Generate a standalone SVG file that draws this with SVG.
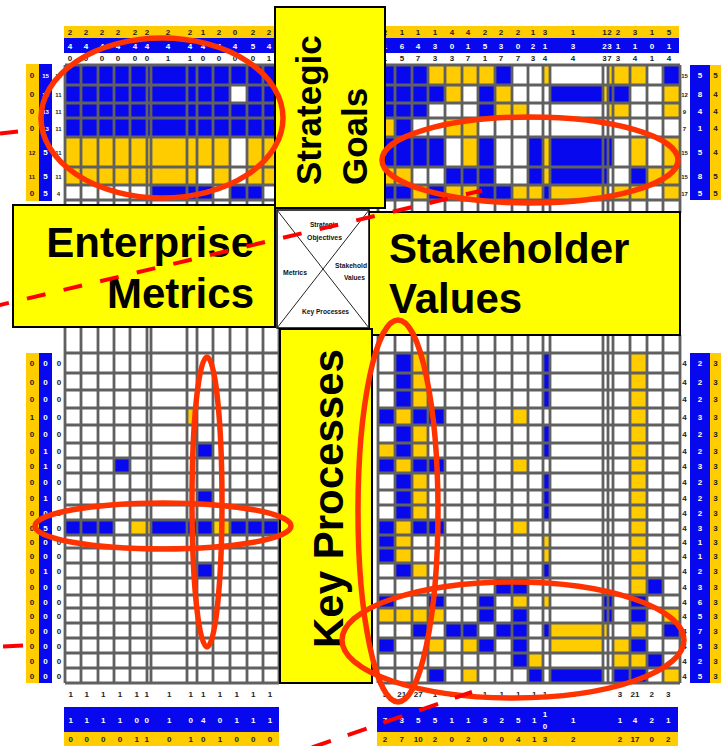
<svg xmlns="http://www.w3.org/2000/svg" width="721" height="746" viewBox="0 0 721 746">
<style>
.bg{fill:#fff}
.b{fill:#0808ee}
.y{fill:#ffcc00}
.grid{fill:none;stroke:#606060;stroke-width:2.8}
.t{font-family:"Liberation Sans",Arial,sans-serif;font-weight:bold;font-size:8px;text-anchor:middle}
.tw{fill:#fff}
.tk{fill:#222}
.ts{font-size:6px}
.box{fill:#ffff00;stroke:#000;stroke-width:2}
.title{font-family:"Liberation Sans",Arial,sans-serif;font-weight:bold;fill:#000}
.leg{font-family:"Liberation Sans Narrow","Liberation Sans",Arial,sans-serif;font-weight:bold;font-size:8px;fill:#111}
.ell{fill:none;stroke:#ff3300;stroke-width:5.5}
.dash{fill:none;stroke:#ff0000;stroke-width:4;stroke-linecap:butt}
</style>
<rect class="bg" x="0" y="0" width="721" height="746"/>

<!-- Top-left matrix: Strategic Goals x Enterprise Metrics -->
<g id="matrix-goals-metrics">
<rect class="b" x="65" y="65" width="214" height="20"/>
<rect class="b" x="65" y="85" width="165" height="18"/>
<rect class="b" x="247" y="85" width="32" height="18"/>
<rect class="b" x="65" y="103" width="214" height="34"/>
<rect class="y" x="65" y="137" width="165" height="30"/>
<rect class="y" x="247" y="137" width="32" height="30"/>
<rect class="y" x="65" y="167" width="132" height="18"/>
<rect class="y" x="213" y="167" width="17" height="18"/>
<rect class="y" x="247" y="167" width="32" height="18"/>
<rect class="b" x="151" y="185" width="62" height="15"/>
<rect class="b" x="230" y="185" width="33" height="15"/>
<path class="grid" d="M65 65V206M81 65V206M98 65V206M114 65V206M130 65V206M147 65V206M151 65V206M187 65V206M197 65V206M213 65V206M230 65V206M247 65V206M263 65V206M279 65V206M65 65H279M65 85H279M65 103H279M65 118H279M65 137H279M65 167H279M65 185H279M65 200H279"/>
<rect class="y" x="64" y="26" width="215" height="12"/>
<rect class="b" x="64" y="38" width="215" height="15"/>
<text class="t tk" y="35" x="70 86 102 118 135 147 168 190 203 219 235 253 269">2222222212022</text>
<text class="t tw" y="49" x="70 86 102 118 135 147 168 190 203 219 235 253 269">4444444444454</text>
<text class="t tk" y="61" x="70 86 102 118 135 147 168 190 203 219 235 253 269">0000001100001</text>
<rect class="y" x="26" y="64" width="13" height="137"/>
<rect class="b" x="39" y="64" width="13" height="137"/>
<text class="t tk" x="32 32 32 32" y="78 97 113.5 130.5">0000</text>
<text class="t tk ts" x="32" y="155">12</text>
<text class="t tk ts" x="32" y="179">11</text>
<text class="t tk" x="32" y="195.5">0</text>
<text class="t tw ts" x="45.5" y="78">15</text>
<text class="t tw ts" x="45.5" y="97">15</text>
<text class="t tw ts" x="45.5" y="113.5">13</text>
<text class="t tw ts" x="45.5" y="130.5">13</text>
<text class="t tw" x="45.5 45.5 45.5" y="155 179 195.5">555</text>
<text class="t tk ts" x="58.5" y="78">11</text>
<text class="t tk ts" x="58.5" y="97">11</text>
<text class="t tk ts" x="58.5" y="113.5">11</text>
<text class="t tk ts" x="58.5" y="130.5">11</text>
<text class="t tk ts" x="58.5" y="155">11</text>
<text class="t tk ts" x="58.5" y="179">11</text>
<text class="t tk ts" x="58.5" y="195.5">4</text>
</g>

<!-- Top-right matrix: Strategic Goals x Stakeholder Values -->
<g id="matrix-goals-values">
<rect class="b" x="378" y="65" width="50" height="20"/>
<rect class="y" x="428" y="65" width="67" height="20"/>
<rect class="b" x="495" y="65" width="17" height="20"/>
<rect class="y" x="543" y="65" width="7" height="20"/>
<rect class="y" x="608" y="65" width="39" height="20"/>
<rect class="b" x="663" y="65" width="17" height="20"/>
<rect class="b" x="378" y="85" width="67" height="18"/>
<rect class="y" x="445" y="85" width="17" height="18"/>
<rect class="b" x="478" y="85" width="17" height="18"/>
<rect class="y" x="495" y="85" width="17" height="18"/>
<rect class="b" x="550" y="85" width="53" height="18"/>
<rect class="y" x="603" y="85" width="5" height="18"/>
<rect class="b" x="608" y="85" width="22" height="18"/>
<rect class="y" x="663" y="85" width="17" height="18"/>
<rect class="b" x="378" y="103" width="50" height="15"/>
<rect class="b" x="478" y="103" width="17" height="15"/>
<rect class="y" x="495" y="103" width="33" height="15"/>
<rect class="y" x="608" y="103" width="22" height="15"/>
<rect class="y" x="663" y="103" width="17" height="15"/>
<rect class="y" x="378" y="118" width="17" height="19"/>
<rect class="b" x="395" y="118" width="17" height="19"/>
<rect class="y" x="445" y="118" width="33" height="19"/>
<rect class="b" x="378" y="137" width="67" height="30"/>
<rect class="y" x="462" y="137" width="16" height="30"/>
<rect class="b" x="478" y="137" width="17" height="30"/>
<rect class="b" x="528" y="137" width="15" height="30"/>
<rect class="y" x="543" y="137" width="7" height="30"/>
<rect class="b" x="550" y="137" width="63" height="30"/>
<rect class="y" x="630" y="137" width="17" height="30"/>
<rect class="y" x="663" y="137" width="17" height="30"/>
<rect class="y" x="378" y="167" width="34" height="18"/>
<rect class="b" x="445" y="167" width="50" height="18"/>
<rect class="b" x="528" y="167" width="15" height="18"/>
<rect class="y" x="543" y="167" width="7" height="18"/>
<rect class="b" x="550" y="167" width="58" height="18"/>
<rect class="b" x="630" y="167" width="17" height="18"/>
<rect class="y" x="647" y="167" width="33" height="18"/>
<rect class="b" x="378" y="185" width="34" height="15"/>
<rect class="y" x="412" y="185" width="16" height="15"/>
<rect class="b" x="428" y="185" width="17" height="15"/>
<rect class="y" x="445" y="185" width="33" height="15"/>
<rect class="b" x="478" y="185" width="34" height="15"/>
<rect class="y" x="512" y="185" width="31" height="15"/>
<rect class="b" x="543" y="185" width="7" height="15"/>
<rect class="y" x="550" y="185" width="58" height="15"/>
<rect class="y" x="613" y="185" width="34" height="15"/>
<rect class="y" x="663" y="185" width="17" height="15"/>
<path class="grid" d="M378 65V213M395 65V213M412 65V213M428 65V213M445 65V213M462 65V213M478 65V213M495 65V213M512 65V213M528 65V213M543 65V213M550 65V213M603 65V213M608 65V213M613 65V213M630 65V213M647 65V213M663 65V213M680 65V213M378 65H680M378 85H680M378 103H680M378 118H680M378 137H680M378 167H680M378 185H680M378 200H680"/>
<rect class="y" x="383" y="26" width="296" height="12"/>
<rect class="b" x="383" y="38" width="296" height="15"/>
<text class="t tk" y="35" x="385 402 418 435 452 468 485 501 518 533 545 573 604.5 609.5 618 635 652 669">211144222131122315</text>
<text class="t tw" y="49" x="385 402 418 435 452 468 485 501 518 533 545 573 604.5 609.5 618 635 652 669">164301530213231101</text>
<text class="t tk" y="61" x="385 402 418 435 452 468 485 501 518 533 545 573 604.5 609.5 618 635 652 669">157337177344373414</text>
<rect class="b" x="690" y="65" width="20" height="135"/>
<rect class="y" x="710" y="65" width="11" height="135"/>
<text class="t tw" x="700 700 700 700 700 700 700" y="78 97 113.5 130.5 155 179 195.5">5841585</text>
<text class="t tk" x="715.5 715.5 715.5 715.5 715.5 715.5 715.5" y="78 97 113.5 130.5 155 179 195.5">5444455</text>
<text class="t tk ts" x="684.5" y="78">15</text>
<text class="t tk ts" x="684.5" y="97">12</text>
<text class="t tk ts" x="684.5" y="113.5">9</text>
<text class="t tk ts" x="684.5" y="130.5">7</text>
<text class="t tk ts" x="684.5" y="155">15</text>
<text class="t tk ts" x="684.5" y="179">15</text>
<text class="t tk ts" x="684.5" y="195.5">17</text>
</g>

<!-- Lower-left matrix: Key Processes x Enterprise Metrics -->
<g id="matrix-processes-metrics">
<rect class="y" x="187" y="408" width="10" height="17"/>
<rect class="b" x="197" y="443" width="16" height="15"/>
<rect class="b" x="114" y="458" width="16" height="15"/>
<rect class="b" x="197" y="490" width="16" height="15"/>
<rect class="b" x="65" y="520" width="49" height="15"/>
<rect class="y" x="130" y="520" width="21" height="15"/>
<rect class="b" x="151" y="520" width="62" height="15"/>
<rect class="y" x="213" y="520" width="17" height="15"/>
<rect class="b" x="230" y="520" width="49" height="15"/>
<rect class="b" x="197" y="563" width="16" height="15"/>
<path class="grid" d="M65 327V683M81 327V683M98 327V683M114 327V683M130 327V683M147 327V683M151 327V683M187 327V683M197 327V683M213 327V683M230 327V683M247 327V683M263 327V683M279 327V683M65 353H279M65 373H279M65 390H279M65 408H279M65 425H279M65 443H279M65 458H279M65 473H279M65 490H279M65 505H279M65 520H279M65 535H279M65 548H279M65 563H279M65 578H279M65 595H279M65 608H279M65 623H279M65 638H279M65 653H279M65 668H279M65 683H279"/>
<rect class="y" x="26" y="353" width="13" height="330"/>
<rect class="b" x="39" y="353" width="13" height="330"/>
<text class="t tk" x="32 32 32 32 32 32 32 32 32 32 32 32 32 32 32 32 32 32 32 32 32" y="366 384.5 402 419.5 437 453.5 468.5 484.5 500.5 515.5 530.5 544.5 558.5 573.5 589.5 604.5 618.5 633.5 648.5 663.5 678.5">000100000000000000000</text>
<text class="t tw" x="45.5 45.5 45.5 45.5 45.5 45.5 45.5 45.5 45.5 45.5 45.5 45.5 45.5 45.5 45.5 45.5 45.5 45.5 45.5 45.5 45.5" y="366 384.5 402 419.5 437 453.5 468.5 484.5 500.5 515.5 530.5 544.5 558.5 573.5 589.5 604.5 618.5 633.5 648.5 663.5 678.5">000001101050010000000</text>
<text class="t tk" x="59 59 59 59 59 59 59 59 59 59 59 59 59 59 59 59 59 59 59 59 59" y="366 384.5 402 419.5 437 453.5 468.5 484.5 500.5 515.5 530.5 544.5 558.5 573.5 589.5 604.5 618.5 633.5 648.5 663.5 678.5">000000000000000000000</text>
<text class="t tk" y="697" x="70.7 86.7 103.3 120 136.7 146.7 169.3 190.7 203.3 220 236.7 253.3 270">1111111111111</text>
<rect class="b" x="64" y="707" width="215" height="25"/>
<rect class="y" x="64" y="732" width="215" height="14"/>
<text class="t tw" y="723" x="70.7 86.7 103.3 120 136.7 146.7 169.3 190.7 203.3 220 236.7 253.3 270">1111001040111</text>
<text class="t tk" y="742" x="70.7 86.7 103.3 120 136.7 146.7 169.3 190.7 203.3 220 236.7 253.3 270">0000110101000</text>
</g>

<!-- Lower-right matrix: Key Processes x Stakeholder Values -->
<g id="matrix-processes-values">
<rect class="b" x="395" y="353" width="17" height="55"/>
<rect class="b" x="395" y="425" width="17" height="33"/>
<rect class="b" x="395" y="473" width="17" height="47"/>
<rect class="b" x="395" y="563" width="17" height="15"/>
<rect class="y" x="412" y="353" width="16" height="55"/>
<rect class="y" x="412" y="425" width="16" height="33"/>
<rect class="y" x="412" y="473" width="16" height="47"/>
<rect class="y" x="412" y="563" width="16" height="15"/>
<rect class="b" x="543" y="353" width="7" height="55"/>
<rect class="b" x="543" y="425" width="7" height="33"/>
<rect class="b" x="543" y="473" width="7" height="47"/>
<rect class="b" x="543" y="563" width="7" height="15"/>
<rect class="y" x="378" y="443" width="17" height="15"/>
<rect class="b" x="378" y="408" width="17" height="17"/>
<rect class="y" x="395" y="408" width="17" height="17"/>
<rect class="b" x="412" y="408" width="33" height="17"/>
<rect class="y" x="512" y="408" width="16" height="17"/>
<rect class="b" x="378" y="458" width="17" height="15"/>
<rect class="y" x="395" y="458" width="17" height="15"/>
<rect class="b" x="412" y="458" width="33" height="15"/>
<rect class="y" x="512" y="458" width="16" height="15"/>
<rect class="b" x="378" y="520" width="17" height="15"/>
<rect class="y" x="395" y="520" width="17" height="15"/>
<rect class="b" x="412" y="520" width="33" height="15"/>
<rect class="y" x="512" y="520" width="16" height="15"/>
<rect class="b" x="378" y="535" width="17" height="28"/>
<rect class="y" x="395" y="535" width="17" height="28"/>
<rect class="y" x="543" y="535" width="7" height="28"/>
<rect class="y" x="630" y="353" width="17" height="242"/>
<rect class="b" x="495" y="578" width="33" height="17"/>
<rect class="b" x="647" y="578" width="16" height="17"/>
<rect class="b" x="378" y="595" width="17" height="13"/>
<rect class="b" x="428" y="595" width="17" height="13"/>
<rect class="b" x="478" y="595" width="17" height="13"/>
<rect class="y" x="512" y="595" width="16" height="13"/>
<rect class="y" x="543" y="595" width="7" height="13"/>
<rect class="b" x="603" y="595" width="10" height="13"/>
<rect class="b" x="630" y="595" width="17" height="13"/>
<rect class="y" x="378" y="608" width="67" height="15"/>
<rect class="b" x="478" y="608" width="17" height="15"/>
<rect class="b" x="512" y="608" width="16" height="15"/>
<rect class="b" x="603" y="608" width="10" height="15"/>
<rect class="b" x="630" y="608" width="17" height="15"/>
<rect class="y" x="663" y="608" width="17" height="15"/>
<rect class="b" x="412" y="623" width="16" height="15"/>
<rect class="b" x="445" y="623" width="33" height="15"/>
<rect class="b" x="495" y="623" width="33" height="15"/>
<rect class="b" x="543" y="623" width="7" height="15"/>
<rect class="y" x="550" y="623" width="58" height="15"/>
<rect class="y" x="630" y="623" width="17" height="15"/>
<rect class="b" x="663" y="623" width="17" height="15"/>
<rect class="b" x="378" y="638" width="17" height="15"/>
<rect class="y" x="428" y="638" width="17" height="15"/>
<rect class="y" x="462" y="638" width="16" height="15"/>
<rect class="b" x="478" y="638" width="17" height="15"/>
<rect class="b" x="512" y="638" width="16" height="15"/>
<rect class="y" x="550" y="638" width="53" height="15"/>
<rect class="y" x="613" y="638" width="17" height="15"/>
<rect class="b" x="630" y="638" width="17" height="15"/>
<rect class="b" x="512" y="653" width="16" height="15"/>
<rect class="y" x="528" y="653" width="15" height="15"/>
<rect class="y" x="613" y="653" width="34" height="15"/>
<rect class="b" x="647" y="653" width="16" height="15"/>
<rect class="b" x="428" y="668" width="17" height="15"/>
<rect class="y" x="462" y="668" width="16" height="15"/>
<rect class="b" x="528" y="668" width="15" height="15"/>
<rect class="b" x="550" y="668" width="53" height="15"/>
<rect class="b" x="613" y="668" width="34" height="15"/>
<rect class="y" x="663" y="668" width="17" height="15"/>
<path class="grid" d="M378 335V683M395 335V683M412 335V683M428 335V683M445 335V683M462 335V683M478 335V683M495 335V683M512 335V683M528 335V683M543 335V683M550 335V683M603 335V683M608 335V683M613 335V683M630 335V683M647 335V683M663 335V683M680 335V683M378 353H680M378 373H680M378 390H680M378 408H680M378 425H680M378 443H680M378 458H680M378 473H680M378 490H680M378 505H680M378 520H680M378 535H680M378 548H680M378 563H680M378 578H680M378 595H680M378 608H680M378 623H680M378 638H680M378 653H680M378 668H680M378 683H680"/>
<rect class="b" x="690" y="353" width="20" height="330"/>
<rect class="y" x="710" y="353" width="11" height="330"/>
<text class="t tw" x="700 700 700 700 700 700 700 700 700 700 700 700 700 700 700 700 700 700 700 700 700" y="366 384.5 402 419.5 437 453.5 468.5 484.5 500.5 515.5 530.5 544.5 558.5 573.5 589.5 604.5 618.5 633.5 648.5 663.5 678.5">222322322231123657525</text>
<text class="t tk" x="684.5 684.5 684.5 684.5 684.5 684.5 684.5 684.5 684.5 684.5 684.5 684.5 684.5 684.5 684.5 684.5 684.5 684.5 684.5 684.5 684.5" y="366 384.5 402 419.5 437 453.5 468.5 484.5 500.5 515.5 530.5 544.5 558.5 573.5 589.5 604.5 618.5 633.5 648.5 663.5 678.5">444444444444444444444</text>
<text class="t tk" x="715.5 715.5 715.5 715.5 715.5 715.5 715.5 715.5 715.5 715.5 715.5 715.5 715.5 715.5 715.5 715.5 715.5 715.5 715.5 715.5 715.5" y="366 384.5 402 419.5 437 453.5 468.5 484.5 500.5 515.5 530.5 544.5 558.5 573.5 589.5 604.5 618.5 633.5 648.5 663.5 678.5">333333333333333333333</text>
<text class="t tk" y="697" x="385 399.5 404 416 420.5 435 451.7 468.3 485 501.7 518.3 534.3 545 573.3 620 632.7 637.3 651.7 668.3">3212711111111132123</text>
<rect class="b" x="377" y="707" width="301" height="25"/>
<rect class="y" x="377" y="732" width="301" height="14"/>
<text class="t tw" y="723" x="385 401.7 418.3 435 451.7 468.3 485 501.7 518.3 534.3">7355113251</text>
<text class="t tw" x="545 545" y="717 729">10</text>
<text class="t tw" y="723" x="573.3 620 635 651.7 668.3">11421</text>
<text class="t tk" y="742" x="385 401.7 416 420.6 435 451.7 468.3 485 501.7 518.3 534.3 545 573.3 620 632.7 637.3 651.7 668.3">271020200413221702</text>
</g>

<!-- Title nodes -->
<g id="node-strategic-goals">
<rect class="box" x="275" y="7" width="110" height="201"/>
<text class="title" font-size="35" transform="translate(321,185) rotate(-90)">Strategic</text>
<text class="title" font-size="35" transform="translate(367,185) rotate(-90)">Goals</text>
</g>
<g id="node-enterprise-metrics">
<rect class="box" x="13" y="205" width="262" height="122"/>
<text class="title" font-size="42" text-anchor="end" x="254" y="257">Enterprise</text>
<text class="title" font-size="42" text-anchor="end" x="254" y="308">Metrics</text>
</g>
<g id="node-stakeholder-values">
<rect class="box" x="369" y="212" width="311" height="123"/>
<text class="title" font-size="42" x="389" y="263">Stakeholder</text>
<text class="title" font-size="42" x="389" y="313">Values</text>
</g>
<g id="node-key-processes">
<rect class="box" x="280" y="329" width="92" height="354"/>
<text class="title" font-size="42" transform="translate(343,648) rotate(-90)">Key Processes</text>
</g>
<g id="node-legend">
<rect x="277" y="210" width="92" height="118" fill="#fff" stroke="#000" stroke-width="1.5"/>
<path d="M277 210L369 328M369 210L277 328" stroke="#222" stroke-width="1" fill="none"/>
<text class="leg" x="310" y="227" textLength="28" lengthAdjust="spacingAndGlyphs">Strategic</text>
<text class="leg" x="307" y="240" textLength="35" lengthAdjust="spacingAndGlyphs">Objectives</text>
<text class="leg" x="283" y="275" textLength="24" lengthAdjust="spacingAndGlyphs">Metrics</text>
<text class="leg" x="335" y="268" textLength="32" lengthAdjust="spacingAndGlyphs">Stakehold</text>
<text class="leg" x="344" y="280" textLength="21" lengthAdjust="spacingAndGlyphs">Values</text>
<text class="leg" x="302" y="314" textLength="47" lengthAdjust="spacingAndGlyphs">Key Processes</text>
</g>

<!-- Highlight ellipses -->
<g id="highlights">
<ellipse class="ell" cx="162" cy="118" rx="121" ry="80"/>
<ellipse class="ell" cx="530" cy="160" rx="148" ry="43"/>
<ellipse class="ell" cx="163" cy="526" rx="128" ry="23"/>
<ellipse class="ell" cx="207" cy="502" rx="15" ry="145"/>
<ellipse class="ell" cx="398" cy="511" rx="40" ry="191"/>
<ellipse class="ell" cx="513" cy="640" rx="171" ry="58"/>
</g>

<!-- Dashed red lines -->
<g id="connectors">
<path class="dash" stroke-dasharray="19 18.6" d="M-9.6 307.3L482 190.5"/>
<path class="dash" stroke-dasharray="20 17.8" d="M312 747.5L472 692"/>
<path class="dash" d="M0 133.5L18 131.5"/>
<path class="dash" d="M3 646.5L23 645.5"/>
</g>
</svg>
